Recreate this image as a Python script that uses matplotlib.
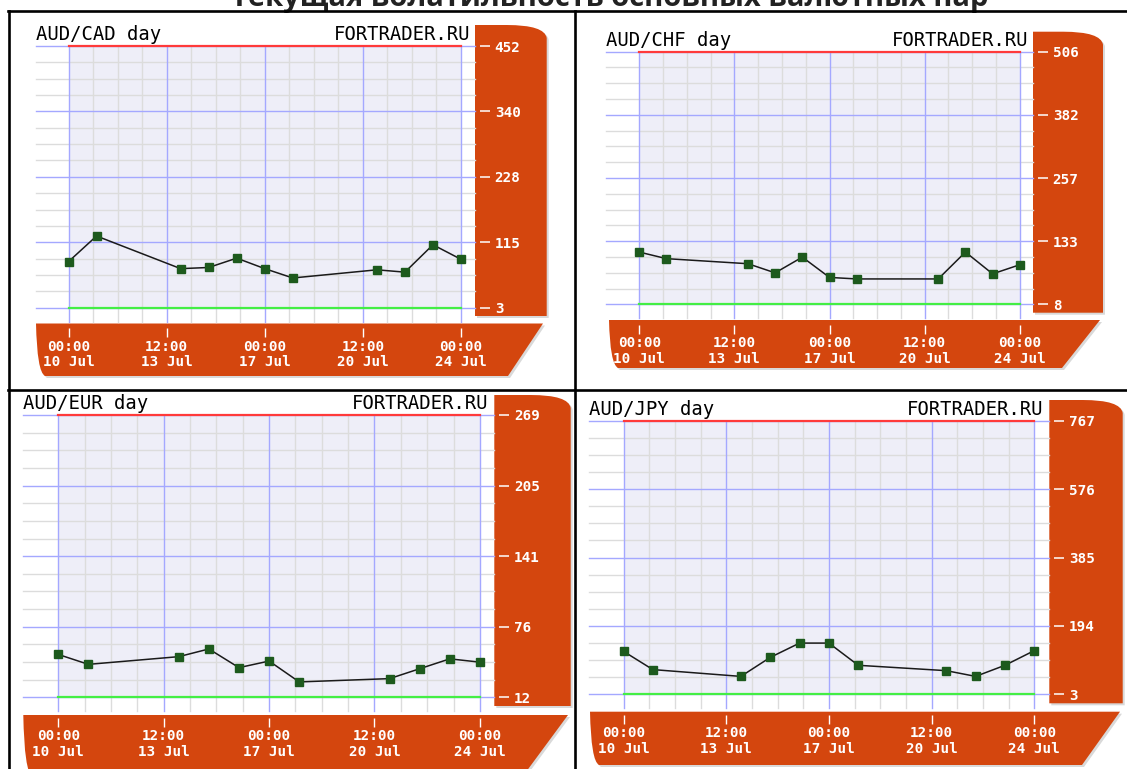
import matplotlib
matplotlib.use('Agg')
import matplotlib.pyplot as plt
from matplotlib.path import Path
from matplotlib.patches import PathPatch
from matplotlib.transforms import Affine2D
from matplotlib.lines import Line2D
import numpy as np

W, H = 1127, 769

# --- данные ---
title = 'Текущая волатильность основных валютных пар'
pairs = ['AUD/CAD', 'AUD/CHF', 'AUD/EUR', 'AUD/JPY']
days = [10, 11, 14, 15, 16, 17, 18, 21, 22, 23, 24]   # июль

cad = [82, 126, 70, 72, 88, 70, 54, 68, 64, 111, 86]
chf = [111, 98, 88, 70, 101, 61, 58, 58, 111, 68, 86]
eur = [51, 42, 49, 56, 39, 45, 26, 29, 38, 47, 44]
jpy = [123, 72, 53, 106, 146, 146, 84, 69, 53, 84, 125]

cad_ticks = ['3', '115', '228', '340', '452']
chf_ticks = ['8', '133', '257', '382', '506']
eur_ticks = ['12', '76', '141', '205', '269']
jpy_ticks = ['3', '194', '385', '576', '767']

x_labels = ['00:00\n10 Jul', '12:00\n13 Jul', '00:00\n17 Jul',
            '12:00\n20 Jul', '00:00\n24 Jul']

# цвета
ORANGE = '#d4460e'
LAV = '#eeeef8'
GRAY = '#dcdcdc'
BLUE = '#a4a8ff'
RED = '#ff3a3a'
GREEN = '#44ee44'
MARK = '#1d5a1d'

fig = plt.figure(figsize=(W / 100, H / 100), dpi=100)
px = Affine2D().scale(1 / W, -1 / H).translate(0, 1) + fig.transFigure


def add_path(verts, codes, color, z=-1):
    sh = PathPatch(Path([(x + 2, y + 2) for x, y in verts], codes),
                   transform=px, facecolor='#d9d9d9', edgecolor='none', zorder=z - 0.5)
    fig.add_artist(sh)
    p = PathPatch(Path(verts, codes), transform=px, facecolor=color,
                  edgecolor='none', zorder=z)
    fig.add_artist(p)


def right_box(l, r, t, b):
    verts = [(l, b), (l, t), (r - 40, t), (r - 2, t), (r, t + 13), (r, b), (l, b)]
    codes = [Path.MOVETO, Path.LINETO, Path.LINETO, Path.CURVE3, Path.CURVE3,
             Path.LINETO, Path.CLOSEPOLY]
    add_path(verts, codes, ORANGE)


def bottom_bar(l, t, b, rt, rb):
    verts = [(l, t), (rt, t), (rb, b), (l + 9, b), (l + 1, b - 4), (l, t)]
    codes = [Path.MOVETO, Path.LINETO, Path.LINETO, Path.LINETO, Path.CURVE3,
             Path.CURVE3]
    add_path(verts, codes, ORANGE)


def panel(geo, pair, vals, yticks):
    gl, x0, x1, gr, ytop, ybot = geo['grid']
    ymin, ymax = float(yticks[0]), float(yticks[-1])
    margin = 14
    s = (x1 - x0) / 14.0
    u = (ybot - ytop) / (ymax - ymin)
    bottom = ybot + margin
    ax = fig.add_axes([gl / W, 1 - bottom / H, (gr - gl) / W, (bottom - ytop) / H])
    ax.set_xlim((gl - x0) / s, 14 + (gr - x1) / s)
    ax.set_ylim(ymin - margin / u, ymax)
    for sp in ax.spines.values():
        sp.set_visible(False)

    # фон области графика
    ax.add_patch(plt.Rectangle((0, ymin), 14, ymax - ymin, color=LAV, zorder=0, lw=0))

    lo = ax.get_ylim()[0]
    for k in range(17):
        yk = ymin + k * (ymax - ymin) / 16
        ax.axhline(yk, color=BLUE if k % 4 == 0 else GRAY, lw=1.0,
                   zorder=1.5 if k % 4 == 0 else 1, clip_on=False)
    for j in range(17):
        xj = j * 14 / 16
        ax.plot([xj, xj], [lo, ymax], color=BLUE if j % 4 == 0 else GRAY, lw=1.0,
                zorder=1.5 if j % 4 == 0 else 1, clip_on=False)
    ax.plot([0, 14], [ymax, ymax], color=RED, lw=1.6, zorder=2, clip_on=False)
    ax.plot([0, 14], [ymin, ymin], color=GREEN, lw=1.6, zorder=2, clip_on=False)

    xs = [d - days[0] for d in days]
    ax.plot(xs, vals, color='#1a1a1a', lw=1.1, zorder=3)
    ax.plot(xs, vals, ls='none', marker='s', ms=5.2, color=MARK, mec=MARK, zorder=4)

    # ось Y справа
    ax.yaxis.set_ticks_position('right')
    ax.spines['right'].set_position(('outward', 3.6))
    ax.set_yticks(np.linspace(ymin, ymax, len(yticks)), yticks,
                  fontfamily='DejaVu Sans Mono', fontweight='bold', fontsize=10.3)
    ax.tick_params(axis='y', direction='out', length=7.2, width=1.1, color='white',
                   pad=3.4, labelcolor='white')

    # ось X снизу
    ax.spines['bottom'].set_position(('outward', 4.5))
    ax.set_xticks(np.linspace(0, 14, len(x_labels)), x_labels,
                  fontfamily='DejaVu Sans Mono', fontweight='bold', fontsize=10.3,
                  linespacing=1.15)
    ax.tick_params(axis='x', direction='out', length=6.5, width=1.0, color='white',
                   pad=2, labelcolor='white')

    # подписи сверху
    ty = ytop - 11.5
    fig.text(gl / W, 1 - ty / H, pair + ' day', ha='left', va='center',
             fontfamily='DejaVu Sans Mono', fontsize=13.6, color='black')
    fig.text(geo['site_r'] / W, 1 - ty / H, 'FORTRADER.RU', ha='right', va='center',
             fontfamily='DejaVu Sans Mono', fontsize=13.6, color='black')

    right_box(*geo['box'])
    bottom_bar(*geo['bar'])


layouts = [
    dict(grid=(36, 68.5, 461, 475, 46, 307.7), site_r=470,
         box=(475, 546.7, 25, 316), bar=(36, 323.5, 376, 543, 508)),
    dict(grid=(606, 639.2, 1019.8, 1033, 51.7, 304.3), site_r=1028.5,
         box=(1033, 1103, 31.7, 312.7), bar=(609, 320, 368, 1100, 1062)),
    dict(grid=(22.7, 58.3, 479.9, 494.3, 415, 697.3), site_r=488.5,
         box=(494.3, 570.7, 395, 706), bar=(23.3, 715, 776, 568, 523)),
    dict(grid=(589, 623.5, 1034.3, 1049.3, 420.7, 694.3), site_r=1043.3,
         box=(1049.3, 1122.7, 400, 703.3), bar=(590, 711.7, 765, 1120, 1082)),
]

for geo, pair, vals, yt in zip(layouts, pairs, [cad, chf, eur, jpy],
                               [cad_ticks, chf_ticks, eur_ticks, jpy_ticks]):
    panel(geo, pair, vals, yt)

# рамка таблицы
for (xa, ya), (xb, yb) in [((8, 11), (1127, 11)), ((8.5, 11), (8.5, 769)),
                           ((575, 11), (575, 769)), ((8, 390), (1127, 390))]:
    fig.add_artist(Line2D([xa, xb], [ya, yb], transform=px, color='black',
                          lw=1.9, zorder=5))

# заголовок (обрезан сверху)
fig.text(610 / W, 1 - 6 / H, title, ha='center', va='baseline',
         fontfamily='Open Sans', fontweight='bold', fontsize=21, color='#222222')

fig.savefig('out.png', dpi=100)
